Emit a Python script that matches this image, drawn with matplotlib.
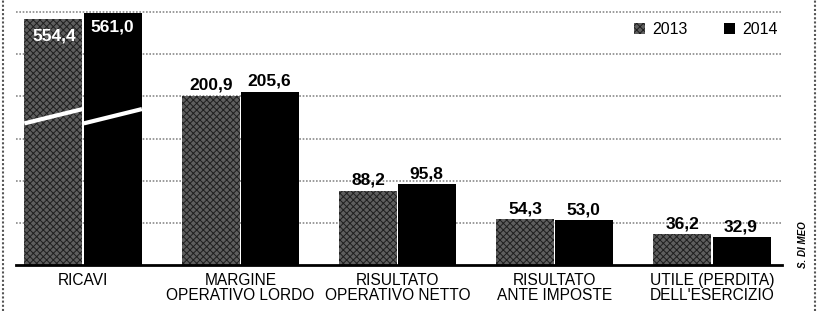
import numpy as np
import matplotlib
matplotlib.use("Agg")
import matplotlib.pyplot as plt
from matplotlib import font_manager
from matplotlib.patches import Patch
from matplotlib.lines import Line2D

categorie = ["RICAVI", "MARGINE\nOPERATIVO LORDO", "RISULTATO\nOPERATIVO NETTO",
             "RISULTATO\nANTE IMPOSTE", "UTILE (PERDITA)\nDELL'ESERCIZIO"]
valori_2013 = [554.4, 200.9, 88.2, 54.3, 36.2]
valori_2014 = [561.0, 205.6, 95.8, 53.0, 32.9]
etichette_2013 = ["554,4", "200,9", "88,2", "54,3", "36,2"]
etichette_2014 = ["561,0", "205,6", "95,8", "53,0", "32,9"]

# asse spezzato per i ricavi
taglio = 262

nomi = {f.name for f in font_manager.fontManager.ttflist}
font = 'Liberation Sans' if 'Liberation Sans' in nomi else 'DejaVu Sans'
plt.rcParams['font.family'] = [font, 'DejaVu Sans']
plt.rcParams['hatch.linewidth'] = 0.7

fig = plt.figure(figsize=(8.2, 3.11), dpi=100)
ax = fig.add_axes([16/820, 46/311, 766/820, 261.3/311])

x = np.arange(len(categorie))
w = 0.37
h13 = [v - taglio if i == 0 else v for i, v in enumerate(valori_2013)]
h14 = [v - taglio if i == 0 else v for i, v in enumerate(valori_2014)]

grigio = '#5e5e5e'
tratteggio = '#1e1e1e'
ax.bar(x - w/2 - 0.004, h13, w, facecolor=grigio, edgecolor=tratteggio,
       hatch='xxxxx', linewidth=0, zorder=3)
ax.bar(x + w/2 + 0.004, h14, w, color='black', linewidth=0, zorder=3)

# linee di interruzione
ax.plot([-w - 0.004, -0.004], [168, 185], color='white', lw=3, zorder=4,
        solid_capstyle='butt')
ax.plot([0.004, w + 0.004], [168, 185], color='white', lw=3, zorder=4,
        solid_capstyle='butt')

fnum = {'fontsize': 12.5, 'fontweight': 'bold'}
for i in range(len(categorie)):
    if i == 0:
        ax.annotate(etichette_2013[i], (x[i] - w/2, h13[i]), xytext=(0, -7),
                    textcoords='offset points', ha='center', va='top',
                    color='white', zorder=5, **fnum)
        ax.annotate(etichette_2014[i], (x[i] + w/2, h14[i]), xytext=(0, -5),
                    textcoords='offset points', ha='center', va='top',
                    color='white', zorder=5, **fnum)
    else:
        ax.annotate(etichette_2013[i], (x[i] - w/2, h13[i]), xytext=(0, 2),
                    textcoords='offset points', ha='center', va='bottom',
                    color='black', zorder=5, **fnum)
        ax.annotate(etichette_2014[i], (x[i] + w/2, h14[i]), xytext=(0, 2),
                    textcoords='offset points', ha='center', va='bottom',
                    color='black', zorder=5, **fnum)

ax.set_xlim(-0.427, 4.446)
ax.set_ylim(0, 310)
ax.set_yticks(range(50, 301, 50))
ax.yaxis.grid(True, color='#8a8a8a', linestyle=(0, (1, 1)), linewidth=1.2, zorder=0)
ax.tick_params(axis='y', left=False, labelleft=False)
ax.set_xticks(x)
ax.set_xticklabels(categorie, fontsize=11.2, linespacing=1.0)
ax.tick_params(axis='x', length=0, pad=6)
for s in ['top', 'left', 'right']:
    ax.spines[s].set_visible(False)
ax.spines['bottom'].set_linewidth(2)
ax.spines['bottom'].set_zorder(5)

maniglie = [Patch(facecolor=grigio, edgecolor=tratteggio, hatch='xxxxx',
                  linewidth=0, label='2013'),
            Patch(facecolor='black', linewidth=0, label='2014')]
ax.legend(handles=maniglie, loc='upper right', bbox_to_anchor=(1.003, 0.955),
          ncol=2, frameon=False, fontsize=11.5, handlelength=0.7, handleheight=0.7,
          handletextpad=0.45, columnspacing=2.3, borderaxespad=0)

fig.text(803/820, 1 - 245/311, "S. DI MEO", rotation=90, ha='center', va='center',
         fontsize=7, fontweight='bold', style='italic')

for xf in [3/820, 815/820]:
    fig.add_artist(Line2D([xf, xf], [0, 1], transform=fig.transFigure,
                          color='#555555', lw=1.5, linestyle=(0, (1, 1))))

fig.savefig("out.png", dpi=100)
